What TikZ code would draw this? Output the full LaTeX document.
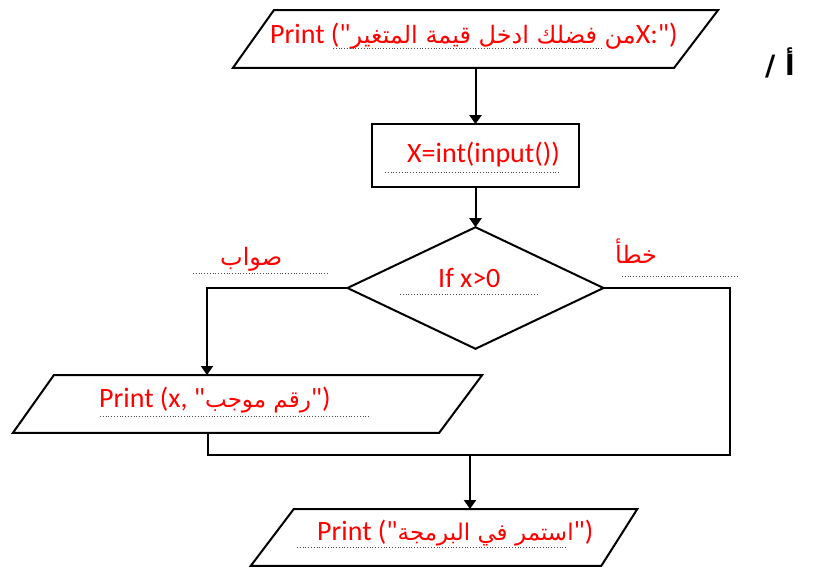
\documentclass[tikz,border=0pt]{standalone}
\usepackage{fontspec}
\setmainfont{Carlito}[Ligatures=TeXOff]
\newfontfamily\arabicfont[Script=Arabic]{DejaVu Sans}
\TeXXeTstate=1
\usetikzlibrary{arrows.meta,calc}
\tikzset{
  box/.style={draw=none,minimum width=#1,inner sep=0pt,outer sep=0pt},
  edge/.style={line width=2bp,black},
  arr/.style={edge,-{Triangle[length=9bp,width=12bp]}},
  txt/.style={text=red,font=\fontsize{28bp}{30bp}\selectfont,inner sep=0pt,anchor=base west},
  ar/.style={text=red,font=\fontsize{24bp}{30bp}\selectfont\arabicfont,inner sep=0pt,anchor=base west},
  ul/.style={dotted,line width=0.8bp,black!70}
}
\newcommand{\ara}[2][23bp]{{\arabicfont\fontsize{#1}{28bp}\selectfont\beginR #2\endR}}
\newcommand{\dq}{\char34\relax}
\begin{document}
\begin{tikzpicture}[x=1bp,y=-1bp]
\useasboundingbox (0,0) rectangle (819,569);
% shapes
\node[box=487,minimum height=58] (p1) at (475.5,39) {};
\draw[edge] ($(p1.north west)+(41,0)$) -- (p1.north east) -- ($(p1.south east)-(44,0)$) -- (p1.south west) -- cycle;
\node[box=207,minimum height=63,draw,edge] (r) at (475.5,155.5) {};
\node[box=257,minimum height=122] (d) at (475.5,288) {};
\draw[edge] (d.north) -- (d.east) -- (d.south) -- (d.west) -- cycle;
\node[box=471,minimum height=58] (p2) at (247.5,404) {};
\draw[edge] ($(p2.north west)+(41,0)$) -- (p2.north east) -- ($(p2.south east)-(43,0)$) -- (p2.south west) -- cycle;
\node[box=388,minimum height=57] (p3) at (444,537.5) {};
\draw[edge] ($(p3.north west)+(43,0)$) -- (p3.north east) -- ($(p3.south east)-(36,0)$) -- (p3.south west) -- cycle;
% connection coordinates
\coordinate (yesin) at (207,375);
\coordinate (noout) at (208,433);
\coordinate (merge) at (470,455);
\coordinate (endin) at (470,509);
% connectors
\draw[arr] (p1.south) -- (r.north);
\draw[arr] (r.south) -- (d.north);
\draw[arr] (d.west) -| (yesin);
\draw[edge] (d.east) -| (730,455) -- (merge) -- (208,455) -- (noout);
\draw[arr] (merge) -- (endin);
% texts
\node[txt] (t1) at (270,44) {Print (\dq\ara[24bp]{من فضلك ادخل قيمة المتغير}X:\dq)};
\node[txt] (t2) at (407,163) {X=int(input())};
\node[txt] (t3) at (438,287) {If x>0};
\node[txt] (t4) at (99,407) {Print (x, \dq\ara{رقم موجب}\dq)};
\node[txt] (t5) at (317,540) {Print (\dq\ara{استمر في البرمجة}\dq)};
\node[ar] (yes) at (220,265) {\beginR صواب\endR};
\node[ar] (no) at (615,263) {\beginR خطأ\endR};
\node[inner sep=0pt,anchor=base west,font=\fontsize{28bp}{30bp}\selectfont\arabicfont\bfseries] (lbl) at (765,76) {\beginR أ /\endR};
% dotted underlines
\draw[ul] (333,48) -- (602,48);
\draw[ul] (385,172) -- (560,172);
\draw[ul] (400,294) -- (537,294);
\draw[ul] (100,416) -- (370,416);
\draw[ul] (297,547) -- (567,547);
\draw[ul] (193,273) -- (329,273);
\draw[ul] (622,276) -- (737,276);
\end{tikzpicture}
\end{document}
